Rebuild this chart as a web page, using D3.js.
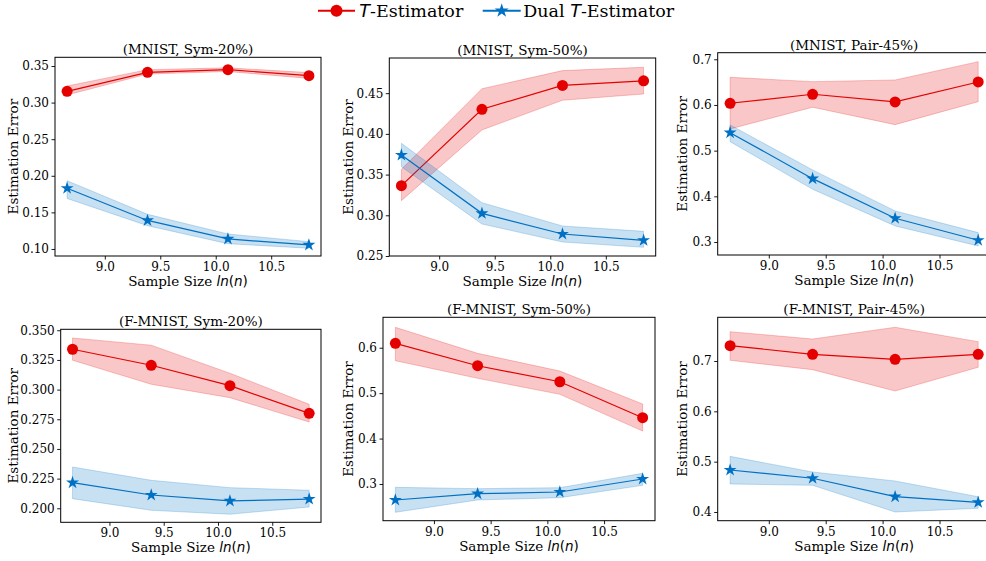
<!DOCTYPE html>
<html>
<head>
<meta charset="utf-8">
<script src="https://cdn.jsdelivr.net/npm/d3@7"></script>
<style>
	body { margin: 0; background: #fff; }
	text { font-family: "DejaVu Serif", serif; fill: #000; }
</style>
</head>
<body>
<div id="chart"></div>
<script>
// data
let xVals = [8.66, 9.385, 10.11, 10.84];
let xTicks = [9.0, 9.5, 10.0, 10.5];

let titles = ["(MNIST, Sym-20%)", "(MNIST, Sym-50%)", "(MNIST, Pair-45%)",
	"(F-MNIST, Sym-20%)", "(F-MNIST, Sym-50%)", "(F-MNIST, Pair-45%)"];

// T-Estimator: mean and band
let tMean = [
	[0.3154, 0.3414, 0.3450, 0.3368],
	[0.3364, 0.4302, 0.4595, 0.4652],
	[0.6037, 0.6234, 0.6066, 0.6503],
	[0.3340, 0.3205, 0.3033, 0.2800],
	[0.6097, 0.5604, 0.5251, 0.4459],
	[0.7304, 0.7133, 0.7034, 0.7133]];
let tLow = [
	[0.3104, 0.3390, 0.3425, 0.3330],
	[0.3180, 0.4048, 0.4413, 0.4490],
	[0.5475, 0.5950, 0.5569, 0.6072],
	[0.3247, 0.3045, 0.2932, 0.2727],
	[0.5714, 0.5327, 0.4974, 0.4166],
	[0.7014, 0.6827, 0.6404, 0.6875]];
let tHigh = [
	[0.3227, 0.3450, 0.3475, 0.3410],
	[0.3565, 0.4555, 0.4777, 0.4818],
	[0.6606, 0.6510, 0.6547, 0.6947],
	[0.3435, 0.3374, 0.3138, 0.2876],
	[0.6449, 0.5877, 0.5487, 0.4761],
	[0.7582, 0.7437, 0.7670, 0.7384]];

// Dual T-Estimator: mean and band
let dMean = [
	[0.1830, 0.1390, 0.1137, 0.1055],
	[0.3740, 0.3024, 0.2770, 0.2693],
	[0.5394, 0.4387, 0.3520, 0.3039],
	[0.2216, 0.2112, 0.2062, 0.2078],
	[0.2648, 0.2786, 0.2824, 0.3110],
	[0.4834, 0.4670, 0.4304, 0.4193]];
let dLow = [
	[0.1690, 0.1318, 0.1072, 0.1010],
	[0.3597, 0.2893, 0.2672, 0.2607],
	[0.5197, 0.4155, 0.3352, 0.2915],
	[0.2081, 0.1983, 0.1950, 0.2011],
	[0.2377, 0.2648, 0.2698, 0.2971],
	[0.4556, 0.4530, 0.4000, 0.4073]];
let dHigh = [
	[0.1933, 0.1474, 0.1205, 0.1100],
	[0.3884, 0.3155, 0.2869, 0.2803],
	[0.5563, 0.4578, 0.3680, 0.3206],
	[0.2348, 0.2236, 0.2174, 0.2152],
	[0.2927, 0.2897, 0.2919, 0.3235],
	[0.5105, 0.4795, 0.4616, 0.4304]];

// y axis ranges and ticks per panel
let yDomains = [[0.0904, 0.3619], [0.25, 0.4932], [0.2716, 0.7144],
	[0.1882, 0.3508], [0.2192, 0.667], [0.3827, 0.7868]];
let yTicks = [
	[0.10, 0.15, 0.20, 0.25, 0.30, 0.35],
	[0.25, 0.30, 0.35, 0.40, 0.45],
	[0.3, 0.4, 0.5, 0.6, 0.7],
	[0.200, 0.225, 0.250, 0.275, 0.300, 0.325, 0.350],
	[0.3, 0.4, 0.5, 0.6],
	[0.4, 0.5, 0.6, 0.7]];
let yFormats = [".2f", ".2f", ".1f", ".3f", ".1f", ".1f"];

let seriesNames = ["-Estimator", "-Estimator"];

// layout of the six axes boxes (left, top, width, height) and y-label x
let boxes = [
	{ x: 55, y: 57.3, w: 266, h: 198.7, lx: 13.3 },
	{ x: 389.3, y: 58, w: 266.4, h: 198, lx: 348.3 },
	{ x: 717.7, y: 52.7, w: 272.9, h: 202.3, lx: 682.7 },
	{ x: 60.7, y: 329.3, w: 260.3, h: 193, lx: 13.3 },
	{ x: 383, y: 317.3, w: 272, h: 203.4, lx: 348.3 },
	{ x: 717.7, y: 317.3, w: 272.9, h: 203.4, lx: 682.7 }];

let red = "#e50000", blue = "#0070c4";
let bandAlpha = 0.22;

let svg = d3.select("#chart")
	.append("svg")
	.attr("width", 986)
	.attr("height", 561);

let star = d3.symbol().type(d3.symbolStar).size(52);

boxes.forEach(function (b, i) {
	let g = svg.append("g")
		.attr("transform", "translate(" + b.x + "," + b.y + ")");

	let x = d3.scaleLinear().domain([8.551, 10.949]).range([0, b.w]);
	let y = d3.scaleLinear().domain(yDomains[i]).range([b.h, 0]);

	let area = d3.area()
		.x(function (d) { return x(d.x); })
		.y0(function (d) { return y(d.lo); })
		.y1(function (d) { return y(d.hi); });
	let line = d3.line()
		.x(function (d) { return x(d.x); })
		.y(function (d) { return y(d.m); });

	let tRows = xVals.map(function (v, k) { return { x: v, m: tMean[i][k], lo: tLow[i][k], hi: tHigh[i][k] }; });
	let dRows = xVals.map(function (v, k) { return { x: v, m: dMean[i][k], lo: dLow[i][k], hi: dHigh[i][k] }; });

	// T-Estimator
	g.append("path").datum(tRows)
		.attr("d", area)
		.attr("fill", red).attr("fill-opacity", bandAlpha)
		.attr("stroke", red).attr("stroke-opacity", bandAlpha).attr("stroke-width", 1);
	g.append("path").datum(tRows)
		.attr("d", line)
		.attr("fill", "none").attr("stroke", red).attr("stroke-width", 1.2);
	g.selectAll("circle.t").data(tRows).enter().append("circle")
		.attr("class", "t")
		.attr("cx", function (d) { return x(d.x); })
		.attr("cy", function (d) { return y(d.m); })
		.attr("r", 5.5)
		.attr("fill", red);

	// Dual T-Estimator
	g.append("path").datum(dRows)
		.attr("d", area)
		.attr("fill", blue).attr("fill-opacity", bandAlpha)
		.attr("stroke", blue).attr("stroke-opacity", bandAlpha).attr("stroke-width", 1);
	g.append("path").datum(dRows)
		.attr("d", line)
		.attr("fill", "none").attr("stroke", blue).attr("stroke-width", 1.2);
	g.selectAll("path.d").data(dRows).enter().append("path")
		.attr("class", "d")
		.attr("d", star)
		.attr("transform", function (d) { return "translate(" + x(d.x) + "," + y(d.m) + ")"; })
		.attr("fill", blue);

	// axes
	let xAxis = g.append("g")
		.attr("transform", "translate(0," + b.h + ")")
		.call(d3.axisBottom(x).tickValues(xTicks).tickFormat(d3.format(".1f")).tickSize(3.5).tickPadding(3));
	let yAxis = g.append("g")
		.call(d3.axisLeft(y).tickValues(yTicks[i]).tickFormat(d3.format(yFormats[i])).tickSize(3.5).tickPadding(2.5));
	[xAxis, yAxis].forEach(function (a) {
		a.select(".domain").remove();
		a.selectAll("line").attr("stroke", "#000").attr("stroke-width", 0.9);
		a.selectAll("text").style("font-family", "DejaVu Serif").style("font-size", "12px").attr("fill", "#000");
	});

	// frame
	g.append("rect")
		.attr("width", b.w).attr("height", b.h)
		.attr("fill", "none").attr("stroke", "#000").attr("stroke-width", 1);

	// title
	g.append("text")
		.attr("x", b.w / 2).attr("y", -3)
		.attr("text-anchor", "middle")
		.style("font-size", "13.5px")
		.text(titles[i]);

	// x label
	let xl = g.append("text")
		.attr("x", b.w / 2).attr("y", b.h + 30)
		.attr("text-anchor", "middle")
		.style("font-size", "13.5px");
	xl.append("tspan").text("Sample Size ");
	xl.append("tspan").style("font-family", "DejaVu Sans").style("font-style", "italic").text("ln");
	xl.append("tspan").style("font-family", "DejaVu Sans").text("(");
	xl.append("tspan").style("font-family", "DejaVu Sans").style("font-style", "italic").text("n");
	xl.append("tspan").style("font-family", "DejaVu Sans").text(")");

	// y label
	svg.append("text")
		.attr("transform", "translate(" + (b.lx + 4.7) + "," + (b.y + b.h / 2) + ") rotate(-90)")
		.attr("text-anchor", "middle")
		.style("font-size", "13.5px")
		.text("Estimation Error");
});

// legend
let legend = svg.append("g");
let legendItems = [
	{ color: red, x0: 318, x1: 355, tx: 359.3, prefix: "", marker: "circle" },
	{ color: blue, x0: 482.7, x1: 520.7, tx: 523.3, prefix: "Dual ", marker: "star" }];
legendItems.forEach(function (d, k) {
	legend.append("line")
		.attr("x1", d.x0).attr("x2", d.x1).attr("y1", 10.7).attr("y2", 10.7)
		.attr("stroke", d.color).attr("stroke-width", 2);
	if (d.marker == "circle") {
		legend.append("circle")
			.attr("cx", (d.x0 + d.x1) / 2).attr("cy", 10.7).attr("r", 6)
			.attr("fill", d.color);
	} else {
		legend.append("path")
			.attr("d", d3.symbol().type(d3.symbolStar).size(62)())
			.attr("transform", "translate(" + ((d.x0 + d.x1) / 2) + ",10.7)")
			.attr("fill", d.color);
	}
	let t = legend.append("text")
		.attr("x", d.tx).attr("y", 17)
		.style("font-size", "17.5px");
	if (d.prefix) t.append("tspan").text(d.prefix);
	t.append("tspan").style("font-family", "DejaVu Sans").style("font-style", "italic").text("T");
	t.append("tspan").text(seriesNames[k]);
});
</script>
</body>
</html>
